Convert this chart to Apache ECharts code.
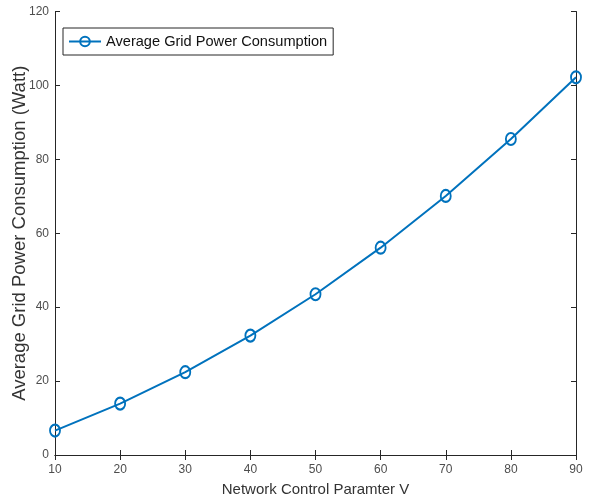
<!DOCTYPE html>
<html><head><meta charset="utf-8">
<script src="https://cdn.jsdelivr.net/npm/echarts@6/dist/echarts.min.js"></script>
<style>html,body{margin:0;padding:0;background:#fff}#c{width:590px;height:502px}</style>
</head><body><div id="c"></div>
<script>
const xValues = [10, 20, 30, 40, 50, 60, 70, 80, 90];
const powerValues = [6.6, 13.9, 22.4, 32.3, 43.5, 56.1, 70.1, 85.5, 102.2];
const seriesName = 'Average Grid Power Consumption';
const xTitle = 'Network Control Paramter V';
const yTitle = 'Average Grid Power Consumption (Watt)';

const chart = echarts.init(document.getElementById('c'));
const FF = 'Liberation Sans, Arial, sans-serif';
const lab = {color:'#4d4d4d', fontSize:12, fontFamily:FF};
const axLine = {show:true, lineStyle:{color:'#262626', width:1}};
const tick = {show:true, inside:true, length:5, lineStyle:{color:'#262626'}};
chart.setOption({
  animation:false,
  grid:{left:55, right:14, top:11.5, bottom:47, containLabel:false, outerBoundsMode:'none'},
  legend:{
    left:63, top:28, padding:[6,6,6,5], itemGap:0,
    borderColor:'#262626', borderWidth:1, backgroundColor:'#fff',
    itemWidth:32, itemHeight:12,
    textStyle:{fontSize:14.6, color:'#111', fontFamily:FF},
    data:[{name:seriesName}]
  },
  xAxis:[{
    type:'value', min:10, max:90, interval:10, position:'bottom',
    name:xTitle, nameLocation:'middle', nameGap:27, nameMoveOverlap:false,
    nameTextStyle:{fontSize:15, color:'#333', fontFamily:FF},
    axisLine:axLine, axisTick:tick, splitLine:{show:false},
    axisLabel:Object.assign({margin:9}, lab)
  },{
    type:'value', min:10, max:90, interval:10, position:'top',
    axisLine:axLine, axisTick:tick, splitLine:{show:false}, axisLabel:{show:false}
  }],
  yAxis:[{
    type:'value', min:0, max:120, interval:20, position:'left',
    name:yTitle, nameLocation:'middle', nameGap:26, nameMoveOverlap:false,
    nameTextStyle:{fontSize:18.5, color:'#333', fontFamily:FF},
    axisLine:axLine, axisTick:tick, splitLine:{show:false},
    axisLabel:Object.assign({margin:6}, lab)
  },{
    type:'value', min:0, max:120, interval:20, position:'right',
    axisLine:axLine, axisTick:tick, splitLine:{show:false}, axisLabel:{show:false}
  }],
  series:[{
    name:seriesName, type:'line',
    data:xValues.map((x,i)=>[x, powerValues[i]]),
    symbol:'circle', symbolSize:[10,12],
    lineStyle:{color:'#0072BD', width:2},
    itemStyle:{color:'rgba(0,0,0,0)', borderColor:'#0072BD', borderWidth:2},
    clip:false
  }]
});
</script></body></html>
